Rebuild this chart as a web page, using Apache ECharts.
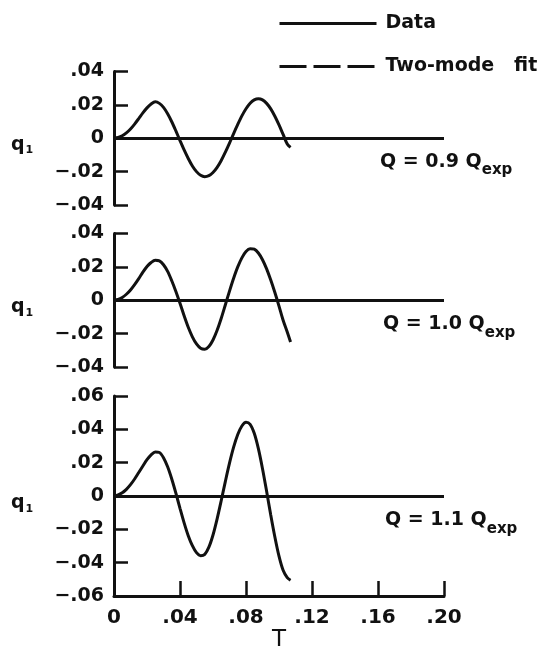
<!DOCTYPE html>
<html>
<head>
<meta charset="utf-8">
<title>q1 response</title>
<script src="https://cdn.jsdelivr.net/npm/echarts@6/dist/echarts.min.js"></script>
<style>
  html, body { margin: 0; padding: 0; background: #fff; }
  #chartBox { width: 551px; height: 652px; }
</style>
</head>
<body>
<div id="chartBox"></div>
<script>
var FONT = 'DejaVu Sans';
var INK = '#111';

// time axis, shared by the three traces
var tValues = [0, 0.0025, 0.005, 0.0075, 0.01, 0.0125, 0.015, 0.0175, 0.02, 0.0225,
    0.025, 0.0275, 0.03, 0.0325, 0.035, 0.0375, 0.04, 0.0425, 0.045, 0.0475,
    0.05, 0.0525, 0.055, 0.0575, 0.06, 0.0625, 0.065, 0.0675, 0.07, 0.0725,
    0.075, 0.0775, 0.08, 0.0825, 0.085, 0.0875, 0.09, 0.0925, 0.095, 0.0975,
    0.1, 0.1025, 0.105, 0.107];

// Q = 0.9 Qexp
var q1Low = [0, 0.0005, 0.0015, 0.0032, 0.0055, 0.0085, 0.0118, 0.0152, 0.0182, 0.0205,
    0.0218, 0.0209, 0.0185, 0.0147, 0.0099, 0.0044, -0.0014, -0.0070, -0.0121, -0.0166,
    -0.0200, -0.0222, -0.0230, -0.0224, -0.0205, -0.0174, -0.0133, -0.0083, -0.0029, 0.0028,
    0.0083, 0.0134, 0.0177, 0.0210, 0.0230, 0.0237, 0.0230, 0.0209, 0.0176, 0.0132,
    0.0080, 0.0023, -0.0035, -0.0055];

// Q = 1.0 Qexp
var q1Mid = [0, 0.0005, 0.0017, 0.0036, 0.0062, 0.0094, 0.0130, 0.0168, 0.0202, 0.0226,
    0.0239, 0.0236, 0.0213, 0.0173, 0.0117, 0.0053, -0.0018, -0.0093, -0.0162, -0.0219,
    -0.0262, -0.0288, -0.0294, -0.0277, -0.0238, -0.0180, -0.0108, -0.0027, 0.0055, 0.0132,
    0.0200, 0.0254, 0.0292, 0.0309, 0.0306, 0.0283, 0.0243, 0.0188, 0.0121, 0.0046,
    -0.0035, -0.0120, -0.0190, -0.0250];

// Q = 1.1 Qexp
var q1High = [0, 0.0006, 0.0019, 0.0040, 0.0068, 0.0102, 0.0141, 0.0180, 0.0218, 0.0247,
    0.0264, 0.0261, 0.0230, 0.0175, 0.0102, 0.0017, -0.0074, -0.0161, -0.0238, -0.0298,
    -0.0340, -0.0358, -0.0350, -0.0307, -0.0234, -0.0137, -0.0027, 0.0088, 0.0197, 0.0293,
    0.0369, 0.0420, 0.0442, 0.0430, 0.0376, 0.0284, 0.0164, 0.0028, -0.0114, -0.0246,
    -0.0361, -0.0446, -0.0490, -0.0505];

var panelNames = ['0.9', '1.0', '1.1'];
var legendNames = ['Data', 'Two-mode   fit'];

var xTicks = [0, 0.04, 0.08, 0.12, 0.16, 0.20];
var xTickLabels = ['0', '.04', '.08', '.12', '.16', '.20'];
var yTicksSmall = [-0.04, -0.02, 0, 0.02, 0.04];
var yTickLabelsSmall = ['\u2212.04', '\u2212.02', '0', '.02', '.04'];
var yTicksBig = [-0.06, -0.04, -0.02, 0, 0.02, 0.04, 0.06];
var yTickLabelsBig = ['\u2212.06', '\u2212.04', '\u2212.02', '0', '.02', '.04', '.06'];

function pick(ticks, labels) {
    return function (v) {
        for (var i = 0; i < ticks.length; i++) {
            if (Math.abs(ticks[i] - v) < 1e-9) return labels[i];
        }
        return '';
    };
}

function pairs(ys) {
    var out = [];
    for (var i = 0; i < ys.length; i++) out.push([tValues[i], ys[i]]);
    return out;
}

var myChart = echarts.init(document.getElementById('chartBox'), null, { renderer: 'canvas' });

// layout of the three stacked panels
var grids = [
    { left: 114, top: 71.5, width: 330, height: 133.5 },
    { left: 114, top: 233.5, width: 330, height: 133.5 },
    { left: 114, top: 396, width: 330, height: 200 }
];
var zeroY = [137.5, 300, 496];
var yLimits = [0.04, 0.04, 0.06];
var curves = [q1Low, q1Mid, q1High];

var xAxes = [], yAxes = [], series = [], titles = [];
for (var p = 0; p < 3; p++) {
    var last = p === 2;
    xAxes.push({
        gridIndex: p,
        type: 'value',
        min: 0,
        max: 0.2,
        interval: 0.04,
        show: last,
        axisLine: { show: last, onZero: false, lineStyle: { color: INK, width: 3 } },
        axisTick: { show: last, inside: true, length: 15, lineStyle: { color: INK, width: 2.5 } },
        axisLabel: {
            show: last, margin: 12, fontSize: 20, fontFamily: FONT, fontWeight: 'bold', color: INK,
            formatter: pick(xTicks, xTickLabels)
        },
        splitLine: { show: false },
        name: last ? 'T' : '',
        nameLocation: 'middle',
        nameGap: 33,
        nameTextStyle: { fontFamily: FONT, fontSize: 23, color: INK }
    });
    yAxes.push({
        gridIndex: p,
        type: 'value',
        min: -yLimits[p],
        max: yLimits[p],
        interval: 0.02,
        axisLine: { show: true, onZero: false, lineStyle: { color: INK, width: 3 } },
        axisTick: { show: true, inside: true, length: 14, lineStyle: { color: INK, width: 2.5 } },
        axisLabel: {
            margin: 10, fontSize: 19, fontFamily: FONT, fontWeight: 'bold', color: INK,
            formatter: last ? pick(yTicksBig, yTickLabelsBig) : pick(yTicksSmall, yTickLabelsSmall)
        },
        splitLine: { show: false }
    });
    series.push({
        name: legendNames[0],
        type: 'line',
        xAxisIndex: p,
        yAxisIndex: p,
        data: pairs(curves[p]),
        smooth: 0.3,
        symbol: 'none',
        lineStyle: { color: INK, width: 3 },
        itemStyle: { color: INK },
        markLine: {
            silent: true,
            symbol: 'none',
            label: { show: false },
            lineStyle: { color: INK, width: 3, type: 'solid' },
            data: [{ yAxis: 0 }]
        }
    });
    titles.push({
        text: '{a|Q = ' + panelNames[p] + ' Q}{s|exp}',
        left: [380, 383, 385][p],
        top: zeroY[p] + 15,
        padding: 0,
        textStyle: {
            rich: {
                a: { fontFamily: FONT, fontWeight: 'bold', fontSize: 19, lineHeight: 20, color: INK, verticalAlign: 'top' },
                s: { fontFamily: FONT, fontWeight: 'bold', fontSize: 15, lineHeight: 16, color: INK, padding: [16, 0, 0, 0] }
            }
        }
    });
    titles.push({
        text: '{q|q}{s|1}',
        left: 11,
        top: zeroY[p] - 2,
        padding: 0,
        textStyle: {
            rich: {
                q: { fontFamily: FONT, fontWeight: 'bold', fontSize: 19, lineHeight: 20, color: INK, verticalAlign: 'top' },
                s: { fontFamily: FONT, fontWeight: 'bold', fontSize: 11, lineHeight: 12, color: INK, padding: [10, 0, 0, 1] }
            }
        }
    });
}

// fitted curve: only its legend key shows in the figure
series.push({
    name: legendNames[1],
    type: 'line',
    xAxisIndex: 0,
    yAxisIndex: 0,
    data: [],
    symbol: 'none',
    lineStyle: { color: INK, width: 3, type: [27, 7] },
    itemStyle: { color: INK }
});

var option = {
    animation: false,
    backgroundColor: '#fff',
    title: titles,
    legend: {
        data: legendNames,
        orient: 'vertical',
        left: 278,
        top: 14,
        padding: 0,
        itemWidth: 97,
        itemHeight: 14,
        itemGap: 24,
        selectedMode: false,
        itemStyle: { opacity: 0 },
        lineStyle: { width: 3, color: INK },
        textStyle: { fontFamily: FONT, fontWeight: 'bold', fontSize: 19, color: INK, padding: [0, 0, 0, 4] }
    },
    grid: grids.map(function (g) {
        return { left: g.left, top: g.top, width: g.width, height: g.height, outerBoundsMode: 'none' };
    }),
    xAxis: xAxes,
    yAxis: yAxes,
    series: series
};

myChart.setOption(option);
</script>
</body>
</html>
